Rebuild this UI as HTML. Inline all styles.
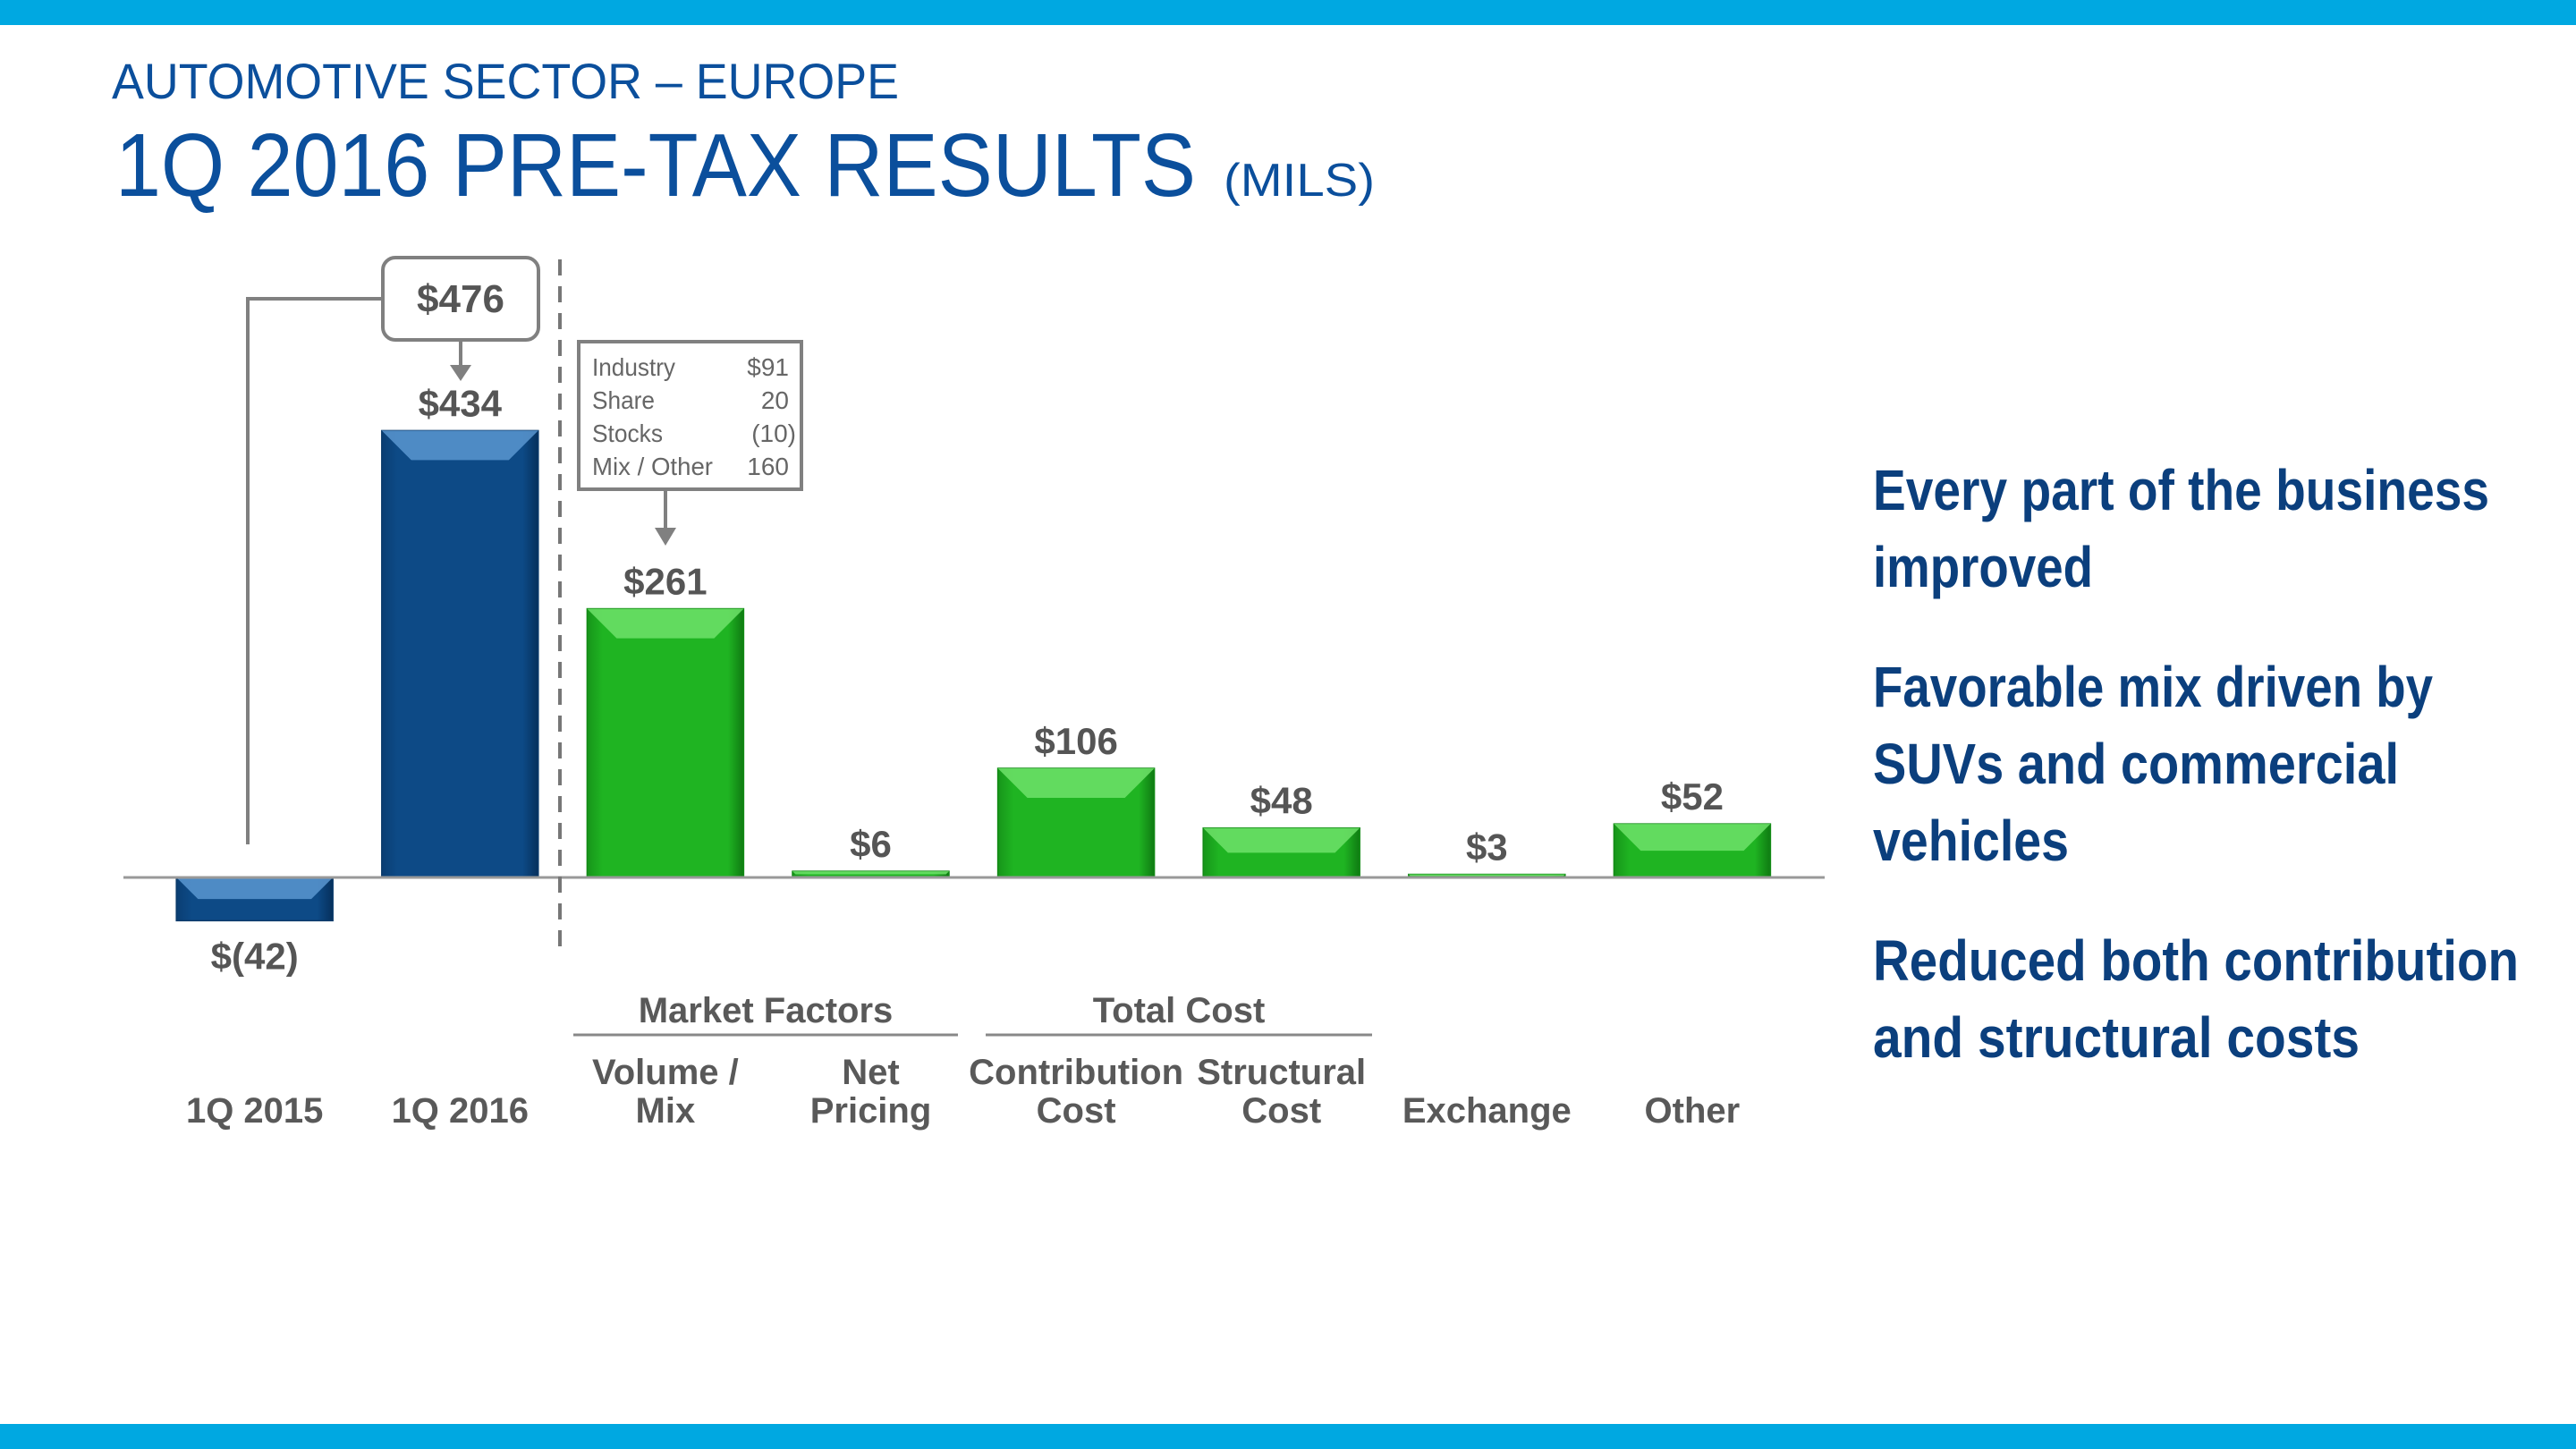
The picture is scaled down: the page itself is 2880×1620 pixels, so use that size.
<!DOCTYPE html>
<html><head><meta charset="utf-8"><style>
html,body{margin:0;padding:0;background:#fff;}
svg{display:block;}
</style></head><body>
<svg id="chart" width="2880" height="1620" viewBox="0 0 2880 1620" xmlns="http://www.w3.org/2000/svg" font-family="Liberation Sans, sans-serif">
<defs>
<linearGradient id="gBlue" x1="0" x2="1" y1="0" y2="0"><stop offset="0" stop-color="#0a3e73"/><stop offset="0.1" stop-color="#0d4a86"/><stop offset="0.9" stop-color="#0d4a86"/><stop offset="1" stop-color="#06305c"/></linearGradient>
<linearGradient id="gGreen" x1="0" x2="1" y1="0" y2="0"><stop offset="0" stop-color="#17951a"/><stop offset="0.1" stop-color="#1fb422"/><stop offset="0.9" stop-color="#1fb422"/><stop offset="1" stop-color="#0f7a12"/></linearGradient>
</defs>
<rect x="0" y="0" width="2880" height="28" fill="#00a8e1"/>
<rect x="0" y="1592" width="2880" height="28" fill="#00a8e1"/>
<text x="125" y="110" font-size="56" fill="#0b4f9c" textLength="880" lengthAdjust="spacingAndGlyphs">AUTOMOTIVE SECTOR – EUROPE</text>
<text x="129" y="219" font-size="100" fill="#0b4f9c" textLength="1208" lengthAdjust="spacingAndGlyphs">1Q 2016 PRE-TAX RESULTS</text>
<text x="1368" y="219" font-size="52" fill="#0b4f9c" textLength="169" lengthAdjust="spacingAndGlyphs">(MILS)</text>

<g id="bars"></g>
<line x1="138" y1="981" x2="2040" y2="981" stroke="#999" stroke-width="3"/>
<line x1="626" y1="290" x2="626" y2="1062" stroke="#777" stroke-width="4" stroke-dasharray="18 12"/>

<rect x="428" y="288" width="174" height="92" rx="14" fill="#fff" stroke="#808080" stroke-width="4"/>
<text x="515" y="349" font-size="44" font-weight="bold" fill="#555" text-anchor="middle">$476</text>
<polyline points="428,334 277,334 277,944" fill="none" stroke="#808080" stroke-width="4"/>
<line x1="515" y1="380" x2="515" y2="418" stroke="#808080" stroke-width="4"/>
<path d="M503,408 L527,408 L515,426 z" fill="#808080"/>

<rect x="647" y="382" width="249" height="165" fill="#fff" stroke="#808080" stroke-width="4"/>
<g font-size="28" fill="#666">
<text x="662" y="420" textLength="93" lengthAdjust="spacingAndGlyphs">Industry</text><text x="882" y="420" text-anchor="end">$91</text>
<text x="662" y="457" textLength="70" lengthAdjust="spacingAndGlyphs">Share</text><text x="882" y="457" text-anchor="end">20</text>
<text x="662" y="494" textLength="79" lengthAdjust="spacingAndGlyphs">Stocks</text><text x="890" y="494" text-anchor="end">(10)</text>
<text x="662" y="531" textLength="135" lengthAdjust="spacingAndGlyphs">Mix / Other</text><text x="882" y="531" text-anchor="end">160</text>
</g>
<line x1="744" y1="547" x2="744" y2="600" stroke="#808080" stroke-width="4"/>
<path d="M732,590 L756,590 L744,610 z" fill="#808080"/>

<g font-size="40" font-weight="bold" fill="#595959" text-anchor="middle">
<text x="856" y="1143">Market Factors</text>
<line x1="641" y1="1157" x2="1071" y2="1157" stroke="#888" stroke-width="3"/>
<text x="1318" y="1143">Total Cost</text>
<line x1="1102" y1="1157" x2="1534" y2="1157" stroke="#888" stroke-width="3"/>
</g>
<g id="cats" font-size="40" font-weight="bold" fill="#595959" text-anchor="middle"></g>

<g font-size="64" font-weight="bold" fill="#0b3f7d">
<text x="2094" y="570" textLength="689" lengthAdjust="spacingAndGlyphs">Every part of the business</text>
<text x="2094" y="656" textLength="246" lengthAdjust="spacingAndGlyphs">improved</text>
<text x="2094" y="790" textLength="626" lengthAdjust="spacingAndGlyphs">Favorable mix driven by</text>
<text x="2094" y="876" textLength="588" lengthAdjust="spacingAndGlyphs">SUVs and commercial</text>
<text x="2094" y="962" textLength="219" lengthAdjust="spacingAndGlyphs">vehicles</text>
<text x="2094" y="1096" textLength="722" lengthAdjust="spacingAndGlyphs">Reduced both contribution</text>
<text x="2094" y="1182" textLength="544" lengthAdjust="spacingAndGlyphs">and structural costs</text>
</g>
</svg>
<script>
const categories = [["1Q 2015"],["1Q 2016"],["Volume /","Mix"],["Net","Pricing"],["Contribution","Cost"],["Structural","Cost"],["Exchange"],["Other"]];
const values = [-42, 434, 261, 6, 106, 48, 3, 52];
const valueLabels = ["$(42)","$434","$261","$6","$106","$48","$3","$52"];
const barKinds = ["blue","blue","green","green","green","green","green","green"];
const NS = "http://www.w3.org/2000/svg";
const zeroY = 981, unit = 1.1511, x0 = 284.7, step = 229.6, bw = 175;
const xPos = i => x0 + i*step;
const yPos = v => zeroY - v*unit;
const bars = document.getElementById('bars');
const cats = document.getElementById('cats');
function mk(tag, attrs, parent){const e=document.createElementNS(NS,tag);for(const k in attrs)e.setAttribute(k,attrs[k]);parent.appendChild(e);return e;}
values.forEach((v,i)=>{
  const cx = xPos(i), x = cx-bw/2;
  const top = Math.min(yPos(v), zeroY), h = Math.max(Math.abs(yPos(v)-zeroY),2);
  const g = mk('g',{},bars);
  
  
  const blue = barKinds[i]==='blue';
  mk('rect',{x:x,y:top,width:bw,height:h,fill:blue?'url(#gBlue)':'url(#gGreen)',stroke:blue?'#0a3a6a':'#138a16','stroke-width':1.5},g);
  const bev = Math.min(33, h*0.5);
  const bx = Math.min(bev, bw/2);
  mk('path',{d:`M${x},${top} L${x+bw},${top} L${x+bw-bx},${top+bev} L${x+bx},${top+bev} z`,fill:blue?'#5b97d0':'#6fe26a',opacity:0.85},g);
  const t = mk('text',{x:cx,y: v<0 ? zeroY+h+54 : top-16,'font-size':42,'font-weight':'bold',fill:'#555','text-anchor':'middle'},bars);
  
  
  t.textContent = valueLabels[i];
  const lines = categories[i];
  lines.forEach((ln,j)=>{
    const c = mk('text',{x:cx,y:1255-(lines.length-1-j)*43},cats);
    
    
    c.textContent = ln;
  });
});
</script>
</body></html>
